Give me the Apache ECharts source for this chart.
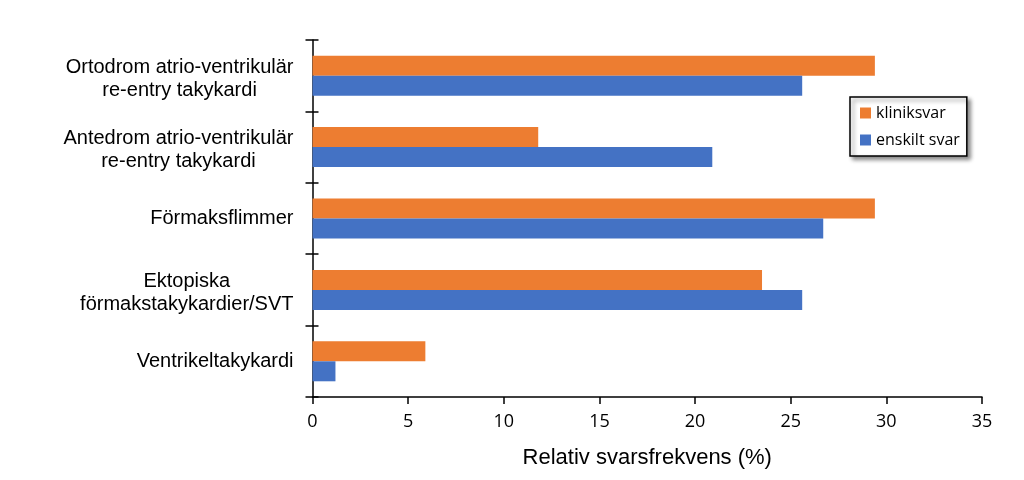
<!DOCTYPE html>
<html><head><meta charset="utf-8">
<script src="https://cdn.jsdelivr.net/npm/echarts@6/dist/echarts.min.js"></script>
<style>html,body{margin:0;padding:0;background:#fff}#c{width:1024px;height:480px}</style>
</head><body><div id="c"></div>
<script>
const categories = [
  "Ortodrom atrio-ventrikulär\nre-entry takykardi",
  "Antedrom atrio-ventrikulär\nre-entry takykardi",
  "Förmaksflimmer",
  "Ektopiska\nförmakstakykardier/SVT",
  "Ventrikeltakykardi"
];
const seriesNames = ["kliniksvar", "enskilt svar"];
const kliniksvar = [29.4, 11.8, 29.4, 23.5, 5.9];
const enskiltSvar = [25.6, 20.9, 26.7, 25.6, 1.2];
const xTicks = [0, 5, 10, 15, 20, 25, 30, 35];
const xTitle = "Relativ svarsfrekvens (%)";

const chart = echarts.init(document.getElementById('c'), null, {renderer: 'canvas'});
const narrow = "'Open Sans', 'Noto Sans', sans-serif";
const arial = "'Liberation Sans', Arial, sans-serif";
chart.setOption({
  animation: false,
  backgroundColor: '#fff',
  grid: {left: 312.5, right: 42, top: 40, bottom: 83, containLabel: false},
  legend: {
    orient: 'vertical',
    left: 850, top: 97,
    padding: [8, 7, 8, 10],
    itemWidth: 11, itemHeight: 11, itemGap: 11,
    borderColor: '#000', borderWidth: 1.5,
    backgroundColor: '#fff',
    shadowBlur: 4, shadowOffsetX: 3, shadowOffsetY: 3, shadowColor: 'rgba(0,0,0,0.45)',
    icon: 'rect',
    textStyle: {fontFamily: narrow, fontSize: 16, color: '#000', padding: [0, 0, 0, 0]},
    data: seriesNames
  },
  xAxis: {
    type: 'value', min: xTicks[0], max: xTicks[xTicks.length - 1], interval: 5,
    name: xTitle, nameLocation: 'middle', nameGap: 50,
    nameTextStyle: {fontFamily: arial, fontSize: 22, color: '#000'},
    axisLine: {show: true, lineStyle: {color: '#000', width: 1.5}},
    axisTick: {show: true, length: 7, lineStyle: {color: '#000', width: 1.5}},
    axisLabel: {fontFamily: narrow, fontSize: 18, color: '#000', margin: 16},
    splitLine: {show: false}
  },
  yAxis: [{
    type: 'category', data: categories, inverse: true,
    axisLine: {show: true, lineStyle: {color: '#000', width: 1.5}},
    axisTick: {show: true, length: 7, lineStyle: {color: '#000', width: 1.5}},
    axisLabel: {
      margin: 19, color: '#000',
      formatter: function (v) {
        const lines = v.split('\n');
        return lines.map(function (l) { return (lines.length > 1 ? '{m|' : '{c|') + l + '}'; }).join('\n');
      },
      rich: {
        c: {fontFamily: arial, fontSize: 20, lineHeight: 23, color: '#000', align: 'center'},
        m: {fontFamily: arial, fontSize: 20, lineHeight: 23, color: '#000', align: 'center', padding: [6, 0, 0, 0]}
      }
    }
  }, {
    type: 'category', data: categories, inverse: true, position: 'left',
    axisLine: {show: false},
    axisTick: {show: true, inside: true, length: 6, lineStyle: {color: '#000', width: 1.5}},
    axisLabel: {show: false}
  }],
  series: [
    {name: seriesNames[0], type: 'bar', data: kliniksvar, yAxisIndex: 0,
     itemStyle: {color: '#ED7D31'}, barGap: '0%', barCategoryGap: '44%'},
    {name: seriesNames[1], type: 'bar', data: enskiltSvar, yAxisIndex: 0,
     itemStyle: {color: '#4472C4'}, barGap: '0%', barCategoryGap: '44%'}
  ]
});
</script></body></html>
